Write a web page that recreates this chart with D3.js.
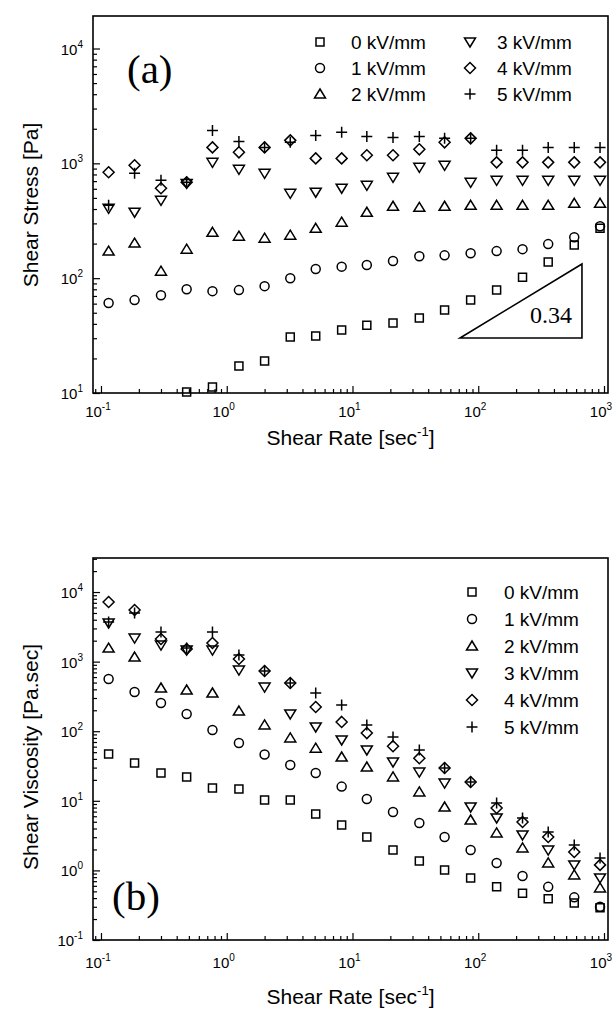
<!DOCTYPE html>
<html>
<head>
<meta charset="utf-8">
<script src="https://cdn.jsdelivr.net/npm/d3@7"></script>
<style>
body { margin: 0; background: #fff; }
svg { display: block; }
</style>
</head>
<body>
<div class="svgContainer"></div>
<script>
const WIDTH = 616;
const HEIGHT = 1012;
const SANS = '"Liberation Sans", Arial, sans-serif';
const SERIF = '"Liberation Serif", "Times New Roman", serif';

// shear rate sweep, sec^-1
const shearRate = [0.115, 0.185, 0.3, 0.48, 0.77, 1.25, 2, 3.2, 5.1, 8.2, 13, 21, 34, 54, 87, 140, 225, 360, 580, 930];
const fieldLabels = ['0 kV/mm', '1 kV/mm', '2 kV/mm', '3 kV/mm', '4 kV/mm', '5 kV/mm'];
const markerTypes = ['square', 'circle', 'triUp', 'triDown', 'diamond', 'plus'];

// (a) shear stress, Pa
const stress0 = [null, null, null, 10.2, 11.3, 17.2, 19.0, 30.7, 31.3, 35.3, 39.0, 40.6, 44.9, 52.7, 64.4, 78.7, 102, 138, 194, 272];
const stress1 = [60.7, 64.4, 71.1, 80.2, 77.1, 78.7, 85.2, 100, 120, 126, 130, 141, 155, 158, 165, 172, 179, 198, 227, 283];
const stress2 = [172, 202, 115, 179, 251, 232, 223, 237, 272, 307, 375, 423, 414, 423, 431, 431, 431, 431, 449, 449];
const stress3 = [406, 375, 476, 669, 1020, 887, 819, 548, 560, 607, 644, 755, 923, 961, 683, 712, 712, 712, 712, 712];
const stress4 = [836, 961, 607, 683, 1377, 1247, 1377, 1585, 1104, 1104, 1175, 1175, 1324, 1524, 1650, 1020, 1020, 1020, 1020, 1020];
const stress5 = [431, 819, 712, 683, 1936, 1553, 1377, 1524, 1750, 1862, 1717, 1683, 1717, 1650, 1650, 1297, 1297, 1377, 1377, 1377];

// (b) shear viscosity, Pa.sec
const visc0 = [47, 34.9, 25.1, 22.0, 15.3, 14.8, 10.3, 10.3, 6.45, 4.49, 3.02, 1.96, 1.36, 1.01, 0.78, 0.58, 0.47, 0.39, 0.34, 0.29];
const visc1 = [562, 366, 254, 177, 104, 67.6, 46.3, 32.7, 25.1, 16.0, 10.6, 6.9, 4.80, 3.02, 1.96, 1.28, 0.83, 0.58, 0.41, 0.30];
const visc2 = [1566, 1164, 418, 391, 354, 195, 123, 80, 57, 42.6, 30.6, 22.0, 13.4, 8.15, 5.30, 3.45, 2.10, 1.28, 0.86, 0.56];
const visc3 = [3590, 2180, 1730, 1468, 1468, 757, 431, 177, 115, 74.8, 53.7, 36.1, 25.9, 18.0, 8.15, 5.66, 3.23, 1.96, 1.20, 0.78];
const visc4 = [7180, 5510, 2110, 1518, 1850, 1090, 733, 493, 223, 136, 94, 61, 41, 29.6, 18.6, 7.9, 4.96, 3.02, 1.84, 1.20];
const visc5 = [3700, 4990, 2660, 1566, 2660, 1245, 733, 493, 354, 238, 123, 82.6, 53.7, 29.6, 18.6, 9.3, 5.66, 3.56, 2.32, 1.51];

// slope triangle in (a), data coordinates
const slopeX = [71.6, 668];
const slopeY = [30.1, 133];
const slopeText = '0.34';

const stressSeries = [stress0, stress1, stress2, stress3, stress4, stress5];
const viscSeries = [visc0, visc1, visc2, visc3, visc4, visc5];

function markerPath(type) {
    switch (type) {
        case 'square': return 'M-4,-4H4V4H-4Z';
        case 'circle': return 'M4.5,0A4.5,4.5 0 1,1 -4.5,0A4.5,4.5 0 1,1 4.5,0Z';
        case 'triUp': return 'M0,-5L5.5,4L-5.5,4Z';
        case 'triDown': return 'M0,5L5.5,-4L-5.5,-4Z';
        case 'diamond': return 'M0,-5.5L5.5,0L0,5.5L-5.5,0Z';
        default: return 'M-5.5,0H5.5M0,-5.5V5.5';
    }
}

const svg = d3.select('.svgContainer')
    .append('svg')
    .attr('width', WIDTH)
    .attr('height', HEIGHT)
    .style('background', '#fff');

function drawPanel(cfg) {
    const x = d3.scaleLog().domain(cfg.xDomain).range([cfg.left, cfg.right]);
    const y = d3.scaleLog().domain(cfg.yDomain).range([cfg.bottom, cfg.top]);
    const g = svg.append('g');

    const isPow = d => Math.abs(Math.log10(d) - Math.round(Math.log10(d))) < 1e-6;
    const xAll = x.ticks();
    const xMajor = xAll.filter(isPow);
    const xMinor = xAll.filter(d => !isPow(d));
    const yAll = y.ticks();
    const yMajor = yAll.filter(isPow);
    const yMinor = yAll.filter(d => !isPow(d));

    const axisStyle = sel => {
        sel.select('.domain').remove();
        sel.selectAll('line').attr('stroke', '#000').attr('stroke-width', 1.2);
    };

    g.append('g')
        .attr('transform', `translate(0, ${cfg.bottom})`)
        .call(d3.axisBottom(x).tickValues(xMajor).tickSize(-7).tickFormat(''))
        .call(axisStyle);
    g.append('g')
        .attr('transform', `translate(0, ${cfg.bottom})`)
        .call(d3.axisBottom(x).tickValues(xMinor).tickSize(-4).tickFormat(''))
        .call(axisStyle);
    g.append('g')
        .attr('transform', `translate(${cfg.left}, 0)`)
        .call(d3.axisLeft(y).tickValues(yMajor).tickSize(-7).tickFormat(''))
        .call(axisStyle);
    g.append('g')
        .attr('transform', `translate(${cfg.left}, 0)`)
        .call(d3.axisLeft(y).tickValues(yMinor).tickSize(-4).tickFormat(''))
        .call(axisStyle);

    g.append('rect')
        .attr('x', cfg.left)
        .attr('y', cfg.top)
        .attr('width', cfg.right - cfg.left)
        .attr('height', cfg.bottom - cfg.top)
        .attr('fill', 'none')
        .attr('stroke', '#000')
        .attr('stroke-width', 1.6);

    // tick labels 10^n
    const xl = g.selectAll('.xlab')
        .data(xMajor)
        .enter()
        .append('text')
        .attr('x', d => x(d) - 3)
        .attr('y', cfg.bottom + cfg.xLabelGap)
        .attr('text-anchor', 'middle')
        .style('font-family', SANS)
        .style('font-size', '15px');
    xl.append('tspan').text('10');
    xl.append('tspan').attr('dy', -7).style('font-size', '10px').text(d => Math.round(Math.log10(d)));

    const yl = g.selectAll('.ylab')
        .data(yMajor)
        .enter()
        .append('text')
        .attr('x', cfg.left - 10)
        .attr('y', d => y(d) + 6)
        .attr('text-anchor', 'end')
        .style('font-family', SANS)
        .style('font-size', '15px');
    yl.append('tspan').text('10');
    yl.append('tspan').attr('dy', -7).style('font-size', '10px').text(d => Math.round(Math.log10(d)));

    // axis titles
    const xt = g.append('text')
        .attr('x', (cfg.left + cfg.right) / 2)
        .attr('y', cfg.bottom + cfg.xTitleGap)
        .attr('text-anchor', 'middle')
        .style('font-family', SANS)
        .style('font-size', '21px');
    xt.append('tspan').text('Shear Rate [sec');
    xt.append('tspan').attr('dy', -9).style('font-size', '13px').text('-1');
    xt.append('tspan').attr('dy', 9).text(']');

    g.append('text')
        .attr('transform', `translate(38, ${cfg.yTitleY}) rotate(-90)`)
        .attr('text-anchor', 'middle')
        .style('font-family', SANS)
        .style('font-size', '21px')
        .text(cfg.yTitle);

    // panel letter
    g.append('text')
        .attr('x', cfg.letterX)
        .attr('y', cfg.letterY)
        .style('font-family', SERIF)
        .style('font-size', '41px')
        .text(cfg.letter);

    // data markers
    cfg.series.forEach((vals, si) => {
        const pts = shearRate.map((r, i) => ({ r, v: vals[i] })).filter(p => p.v != null);
        g.append('g')
            .selectAll('path')
            .data(pts)
            .enter()
            .append('path')
            .attr('d', markerPath(markerTypes[si]))
            .attr('transform', d => `translate(${x(d.r)}, ${y(d.v)})`)
            .attr('fill', 'none')
            .attr('stroke', '#000')
            .attr('stroke-width', 1.5);
    });

    // legend
    const leg = g.append('g');
    fieldLabels.forEach((lab, i) => {
        const pos = cfg.legendPos(i);
        leg.append('path')
            .attr('d', markerPath(markerTypes[i]))
            .attr('transform', `translate(${pos.sx}, ${pos.y})`)
            .attr('fill', 'none')
            .attr('stroke', '#000')
            .attr('stroke-width', 1.5);
        leg.append('text')
            .attr('x', pos.tx)
            .attr('y', pos.y + 7)
            .style('font-family', SANS)
            .style('font-size', '19px')
            .text(lab);
    });

    return { g, x, y };
}

const panelA = drawPanel({
    xDomain: [0.0864, 1076],
    yDomain: [10, 19190],
    left: 93, right: 608, top: 16, bottom: 393,
    xLabelGap: 24, xTitleGap: 52,
    yTitle: 'Shear Stress [Pa]',
    yTitleY: 205,
    letter: '(a)', letterX: 127, letterY: 83,
    series: stressSeries,
    legendPos: i => ({ sx: i < 3 ? 320 : 470, tx: i < 3 ? 351 : 497, y: 42 + (i % 3) * 26 })
});

const panelB = drawPanel({
    xDomain: [0.0864, 1076],
    yDomain: [0.1, 30830],
    left: 93, right: 608, top: 558, bottom: 940,
    xLabelGap: 28, xTitleGap: 64,
    yTitle: 'Shear Viscosity [Pa.sec]',
    yTitleY: 757,
    letter: '(b)', letterX: 112, letterY: 910,
    series: viscSeries,
    legendPos: i => ({ sx: 472, tx: 504, y: 592 + i * 27 })
});

// slope triangle annotation in (a)
const xa = panelA.x, ya = panelA.y;
panelA.g.append('path')
    .attr('d', `M${xa(slopeX[0])},${ya(slopeY[0])}L${xa(slopeX[1])},${ya(slopeY[0])}L${xa(slopeX[1])},${ya(slopeY[1])}Z`)
    .attr('fill', 'none')
    .attr('stroke', '#000')
    .attr('stroke-width', 1.6);
panelA.g.append('text')
    .attr('x', xa(slopeX[1]) - 10)
    .attr('y', ya(slopeY[0]) - 15)
    .attr('text-anchor', 'end')
    .style('font-family', SERIF)
    .style('font-size', '24px')
    .text(slopeText);
</script>
</body>
</html>
